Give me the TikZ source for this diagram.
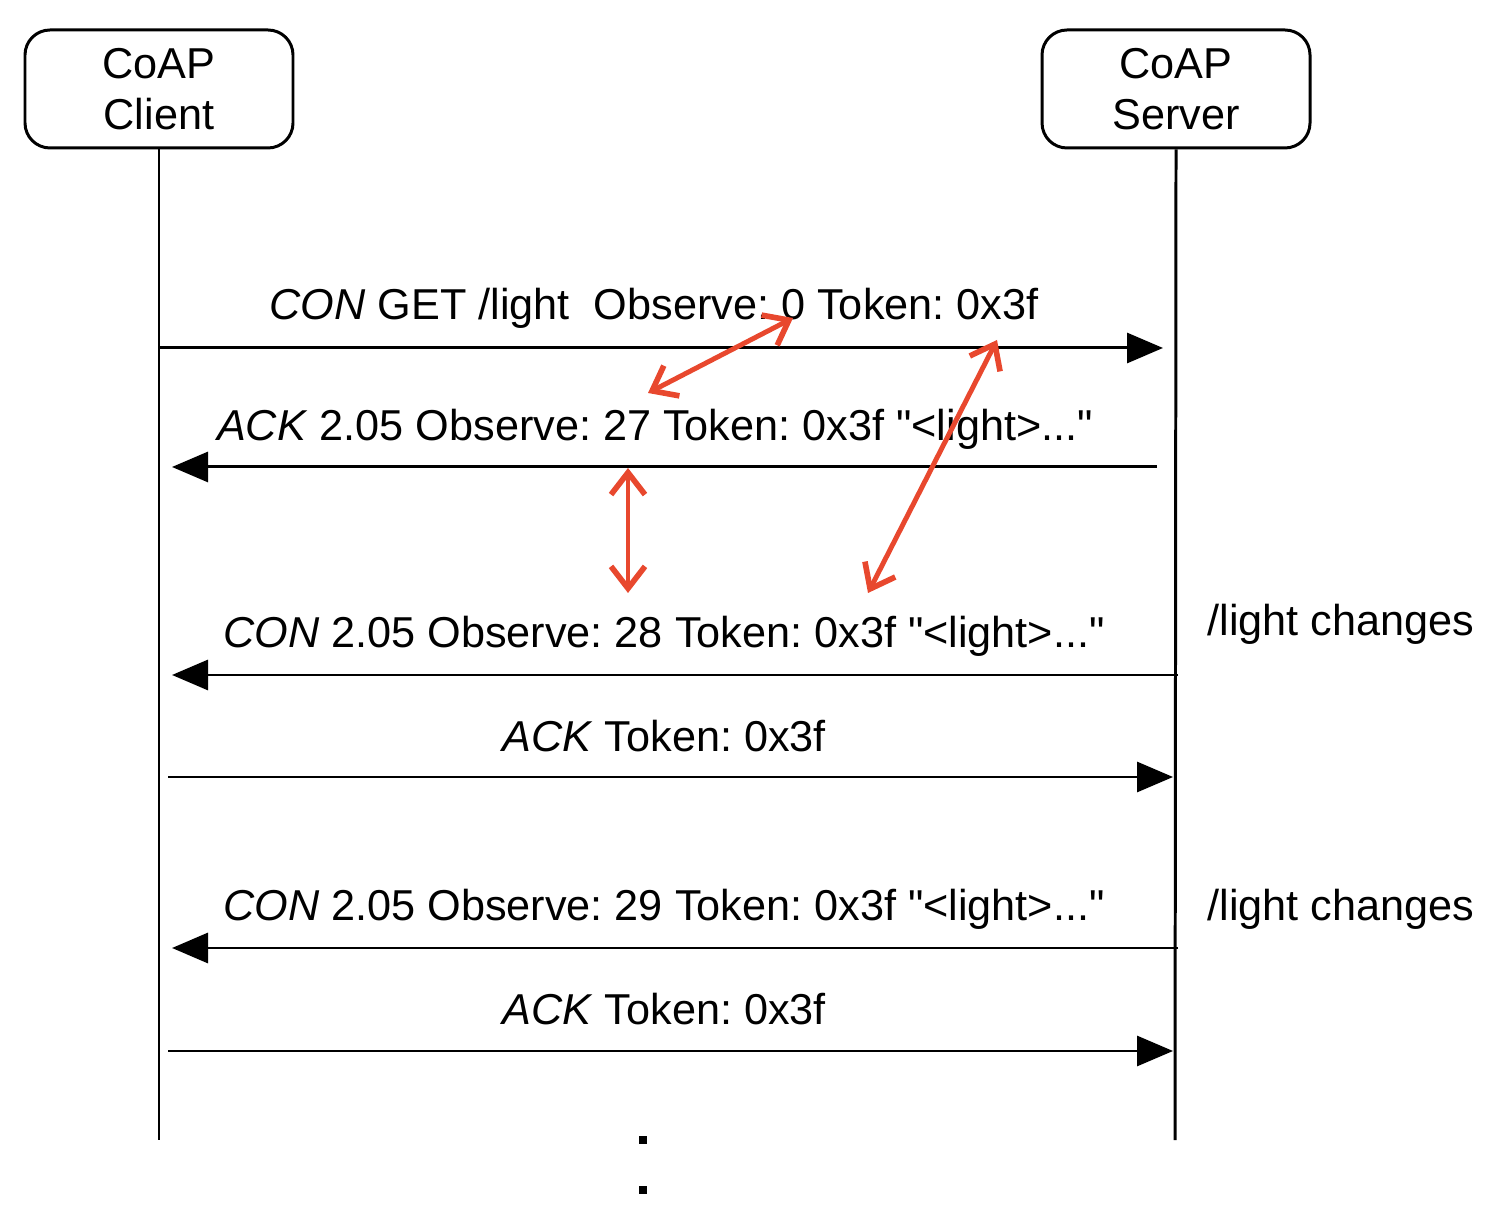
\documentclass[tikz,border=0pt]{standalone}
\usepackage{fontspec}
\setmainfont{Liberation Sans}[Ligatures=TeXOff]
\usetikzlibrary{arrows.meta}
\frenchspacing

\definecolor{linkred}{RGB}{232,72,46}

\tikzset{
  party/.style={draw,line width=0.85pt,rounded corners=0.25cm,minimum width=2.68cm,minimum height=1.18cm,align=center,font=\msgfont},
  lifeline/.style={line width=0.85pt},
  msg/.style={line width=0.85pt,-{Triangle[length=0.36cm,width=0.3cm]}},
  msglabel/.style={anchor=base,font=\msgfont},
  link/.style={draw=linkred,line width=1.4pt,{Straight Barb[length=0.22cm,width=0.34cm,line width=1.6pt]}-{Straight Barb[length=0.22cm,width=0.34cm,line width=1.6pt]}},
  dotmark/.style={fill=black,inner sep=0pt,minimum size=0.08cm}
}
\newcommand{\msgfont}{\fontsize{12.3}{14.5}\selectfont}

\begin{document}
\begin{tikzpicture}
  \useasboundingbox (0,0) rectangle (15.08,12.30);

  % Parties
  \node[party] (client) at (1.59,11.41) {CoAP\\Client};
  \node[party] (server) at (11.76,11.41) {CoAP\\Server};

  % Lifelines
  \coordinate (clientend) at (1.59,0.90);
  \coordinate (serverend) at (11.75,0.90);
  \draw[lifeline] (client.south) -- (clientend);
  \draw[lifeline] (server.south) -- (serverend);

  % Message end points
  \coordinate (c1) at (1.59,8.82);  \coordinate (s1) at (11.63,8.82);
  \coordinate (s2) at (11.57,7.63); \coordinate (c2) at (1.72,7.63);
  \coordinate (s3) at (11.78,5.55); \coordinate (c3) at (1.72,5.55);
  \coordinate (c4) at (1.68,4.53);  \coordinate (s4) at (11.73,4.53);
  \coordinate (s5) at (11.78,2.82); \coordinate (c5) at (1.72,2.82);
  \coordinate (c6) at (1.68,1.79);  \coordinate (s6) at (11.73,1.79);

  % Messages
  \draw[msg] (c1) -- (s1);
  \draw[msg] (s2) -- (c2);
  \draw[msg] (s3) -- (c3);
  \draw[msg] (c4) -- (s4);
  \draw[msg] (s5) -- (c5);
  \draw[msg] (c6) -- (s6);

  % Labels
  \node[msglabel] (get) at (6.54,9.10) {\textit{CON} GET /light~~Observe: 0 Token: 0x3f};
  \node[msglabel] (ack1) at (6.55,7.89) {\textit{ACK} 2.05 Observe: 27 Token: 0x3f "<light>..."};
  \node[msglabel] (con1) at (6.64,5.82) {\textit{CON} 2.05 Observe: 28 Token: 0x3f "<light>..."};
  \node[msglabel] (ack2) at (6.64,4.78) {\textit{ACK} Token: 0x3f};
  \node[msglabel] (con2) at (6.64,3.09) {\textit{CON} 2.05 Observe: 29 Token: 0x3f "<light>..."};
  \node[msglabel] (ack3) at (6.64,2.06) {\textit{ACK} Token: 0x3f};
  \node[msglabel] (change1) at (13.41,5.94) {/light changes};
  \node[msglabel] (change2) at (13.41,3.09) {/light changes};

  % Red links
  \coordinate (obs0) at (7.93,9.12);  \coordinate (obs27) at (6.48,8.37);
  \coordinate (tok0) at (9.97,8.90);  \coordinate (tok28) at (8.68,6.37);
  \coordinate (gapup) at (6.28,7.62); \coordinate (gapdown) at (6.28,6.37);
  \draw[link] (obs0) -- (obs27);
  \draw[link] (tok0) -- (tok28);
  \draw[link] (gapup) -- (gapdown);

  % Continuation
  \node[dotmark] (dot1) at (6.43,0.90) {};
  \node[dotmark] (dot2) at (6.43,0.40) {};
\end{tikzpicture}
\end{document}
